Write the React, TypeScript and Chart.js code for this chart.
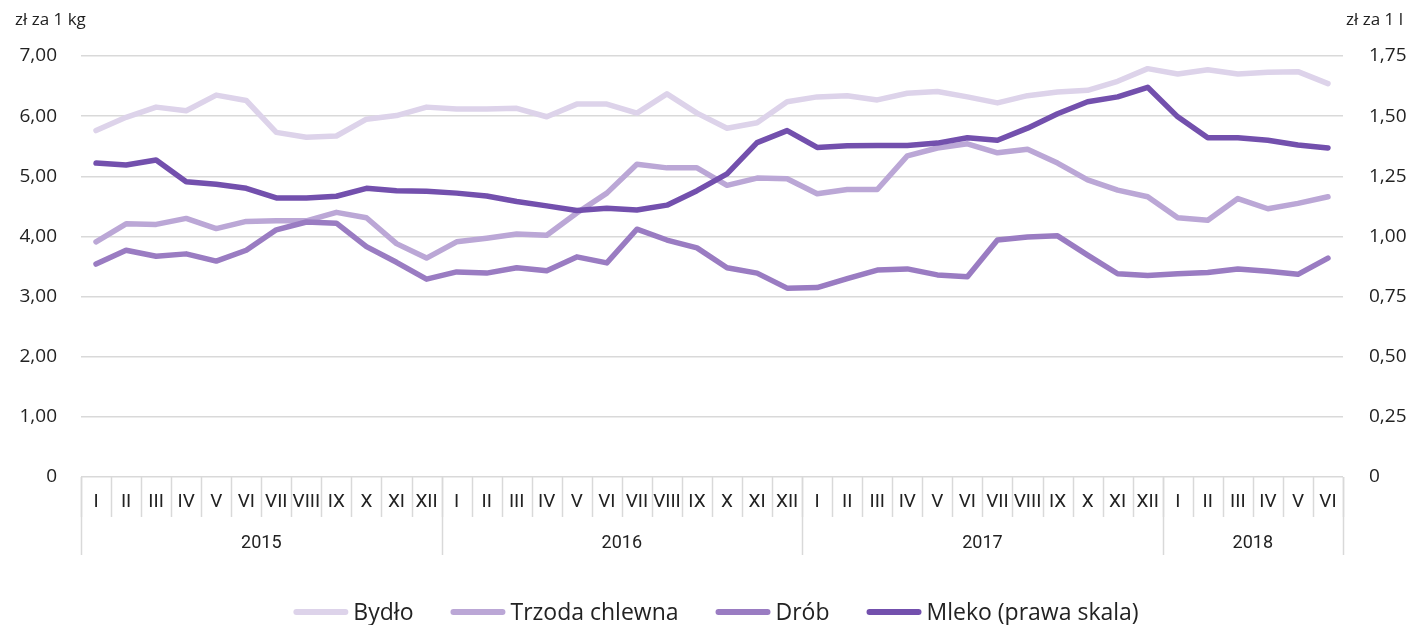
import React, { useEffect, useRef } from "react";
import { Chart, registerables } from "chart.js";

Chart.register(...registerables);

const monthLabels = [
  "I","II","III","IV","V","VI","VII","VIII","IX","X","XI","XII",
  "I","II","III","IV","V","VI","VII","VIII","IX","X","XI","XII",
  "I","II","III","IV","V","VI","VII","VIII","IX","X","XI","XII",
  "I","II","III","IV","V","VI",
];
const yearLabels = ["2015", "2016", "2017", "2018"];
const yearMonths = [12, 12, 12, 6];

const bydlo = [
  5.76, 5.98, 6.15, 6.09, 6.35, 6.26, 5.73, 5.65, 5.67, 5.95, 6.01, 6.15,
  6.12, 6.12, 6.13, 5.99, 6.20, 6.20, 6.05, 6.37, 6.05, 5.80, 5.89, 6.24,
  6.32, 6.34, 6.27, 6.38, 6.41, 6.32, 6.22, 6.34, 6.40, 6.43, 6.58, 6.79,
  6.70, 6.77, 6.70, 6.73, 6.74, 6.54,
];
const trzoda = [
  3.91, 4.21, 4.20, 4.30, 4.13, 4.25, 4.26, 4.26, 4.40, 4.31, 3.88, 3.64,
  3.91, 3.97, 4.04, 4.02, 4.39, 4.72, 5.20, 5.14, 5.14, 4.85, 4.97, 4.96,
  4.71, 4.78, 4.78, 5.34, 5.47, 5.54, 5.39, 5.45, 5.22, 4.94, 4.77, 4.66,
  4.31, 4.27, 4.63, 4.46, 4.55, 4.66,
];
const drob = [
  3.54, 3.77, 3.67, 3.71, 3.59, 3.77, 4.11, 4.24, 4.22, 3.83, 3.57, 3.29,
  3.41, 3.39, 3.48, 3.43, 3.66, 3.56, 4.12, 3.94, 3.81, 3.48, 3.39, 3.14,
  3.15, 3.30, 3.44, 3.46, 3.36, 3.33, 3.94, 3.99, 4.01, 3.69, 3.38, 3.35,
  3.38, 3.40, 3.46, 3.42, 3.37, 3.64,
];
const mleko = [
  1.305, 1.297, 1.318, 1.227, 1.217, 1.200, 1.160, 1.160, 1.167, 1.200, 1.190, 1.188,
  1.180, 1.168, 1.145, 1.127, 1.108, 1.117, 1.110, 1.130, 1.190, 1.260, 1.390, 1.440,
  1.370, 1.377, 1.378, 1.378, 1.388, 1.410, 1.400, 1.450, 1.510, 1.560, 1.580, 1.620,
  1.497, 1.410, 1.410, 1.400, 1.380, 1.368,
];

const seriesNames = ["Bydło", "Trzoda chlewna", "Drób", "Mleko (prawa skala)"];
const seriesColors = ["#ddd3ea", "#bba7d6", "#9a7cc2", "#7350ad"];

const leftTickLabels = ["0", "1,00", "2,00", "3,00", "4,00", "5,00", "6,00", "7,00"];
const rightTickLabels = ["0", "0,25", "0,50", "0,75", "1,00", "1,25", "1,50", "1,75"];
const leftTitle = "zł za 1 kg";
const rightTitle = "zł za 1 l";

const TEXT = "#222222";
const GRID = "#d9d9d9";
const FONT = "'Open Sans', 'Noto Sans', sans-serif";
const NARROW = "'Liberation Sans Narrow', 'Roboto', sans-serif";

const extrasPlugin = {
  id: "extras",
  afterDraw(chart: any) {
    const ctx = chart.ctx;
    const x = chart.scales.x;
    const area = chart.chartArea;
    const n = monthLabels.length;
    const step = x.getPixelForValue(1) - x.getPixelForValue(0);
    const bound = (i: number) => x.getPixelForValue(i) - step / 2;
    const top = area.bottom;
    ctx.save();
    ctx.strokeStyle = GRID;
    ctx.lineWidth = 1.5;
    for (let i = 0; i <= n; i++) {
      const px = Math.round(bound(i)) + 0.5;
      ctx.beginPath();
      ctx.moveTo(px, top);
      ctx.lineTo(px, top + 40);
      ctx.stroke();
    }
    let idx = 0;
    const yb = [0];
    yearMonths.forEach((m) => {
      idx += m;
      yb.push(idx);
    });
    yb.forEach((i) => {
      const px = Math.round(bound(i)) + 0.5;
      ctx.beginPath();
      ctx.moveTo(px, top);
      ctx.lineTo(px, top + 78);
      ctx.stroke();
    });
    ctx.fillStyle = TEXT;
    ctx.font = `19px ${NARROW}`;
    ctx.textAlign = "center";
    ctx.textBaseline = "middle";
    monthLabels.forEach((l, i) => {
      ctx.fillText(l, x.getPixelForValue(i), top + 25);
    });
    ctx.font = `18px ${NARROW}`;
    yearLabels.forEach((l, k) => {
      const cx = (bound(yb[k]) + bound(yb[k + 1])) / 2;
      ctx.fillText(l, cx, top + 66);
    });
    ctx.font = `17px ${FONT}`;
    ctx.textAlign = "left";
    ctx.fillText(leftTitle, 15, 20);
    ctx.textAlign = "right";
    ctx.fillText(rightTitle, 1403, 20);
    ctx.font = `23px ${FONT}`;
    const lineLen = 55;
    const gap1 = 5;
    const gap2 = 37;
    const widths = seriesNames.map((s) => ctx.measureText(s).width);
    const total =
      widths.reduce((a, b) => a + b, 0) + seriesNames.length * (lineLen + gap1) + (seriesNames.length - 1) * gap2;
    let lx = (area.left + area.right) / 2 + 4 - total / 2;
    const ly = 612;
    ctx.textAlign = "left";
    ctx.lineCap = "round";
    seriesNames.forEach((s, i) => {
      ctx.strokeStyle = seriesColors[i];
      ctx.lineWidth = 6;
      ctx.beginPath();
      ctx.moveTo(lx + 3, ly);
      ctx.lineTo(lx + lineLen - 3, ly);
      ctx.stroke();
      ctx.fillStyle = TEXT;
      ctx.fillText(s, lx + lineLen + gap1, ly + 1);
      lx += lineLen + gap1 + widths[i] + gap2;
    });
    ctx.restore();
  },
};

export default function App() {
  const ref = useRef<HTMLCanvasElement | null>(null);
  useEffect(() => {
    if (!ref.current) return;
    const mk = (label: string, data: number[], color: string, axis: string, order: number) => ({
      label,
      data,
      borderColor: color,
      backgroundColor: color,
      borderWidth: 5.5,
      pointRadius: 0,
      pointHoverRadius: 0,
      tension: 0,
      borderCapStyle: "round" as const,
      borderJoinStyle: "round" as const,
      yAxisID: axis,
      order,
    });
    const chart = new Chart(ref.current, {
      type: "line",
      data: {
        labels: monthLabels,
        datasets: [
          mk(seriesNames[0], bydlo, seriesColors[0], "y", 4),
          mk(seriesNames[1], trzoda, seriesColors[1], "y", 3),
          mk(seriesNames[2], drob, seriesColors[2], "y", 2),
          mk(seriesNames[3], mleko, seriesColors[3], "y1", 1),
        ],
      },
      options: {
        animation: false,
        responsive: false,
        maintainAspectRatio: false,
        layout: { padding: { top: 56, bottom: 68, left: 0, right: 0 } },
        plugins: { legend: { display: false }, tooltip: { enabled: false } },
        scales: {
          x: {
            type: "category",
            offset: true,
            grid: { display: false },
            border: { display: false },
            ticks: { display: false },
            afterFit: (s: any) => {
              s.height = 80;
            },
          },
          y: {
            position: "left",
            min: 0,
            max: 7,
            ticks: {
              stepSize: 1,
              padding: 24,
              color: TEXT,
              font: { size: 19, family: FONT },
              callback: (_v: any, i: number) => leftTickLabels[i],
            },
            grid: { color: GRID, lineWidth: 1.5, drawTicks: false },
            border: { display: false },
            afterFit: (s: any) => {
              s.width = 81;
            },
          },
          y1: {
            position: "right",
            min: 0,
            max: 1.75,
            ticks: {
              stepSize: 0.25,
              padding: 26,
              color: TEXT,
              font: { size: 19, family: FONT },
              callback: (_v: any, i: number) => rightTickLabels[i],
            },
            grid: { display: false, drawTicks: false },
            border: { display: false },
            afterFit: (s: any) => {
              s.width = 67;
            },
          },
        },
      },
      plugins: [extrasPlugin],
    });
    return () => chart.destroy();
  }, []);
  return (
    <div style={{ position: "fixed", left: 0, top: 0, width: 1410, height: 625, background: "#fff" }}>
      <canvas ref={ref} width={1410} height={625} style={{ width: 1410, height: 625, display: "block" }} />
    </div>
  );
}
